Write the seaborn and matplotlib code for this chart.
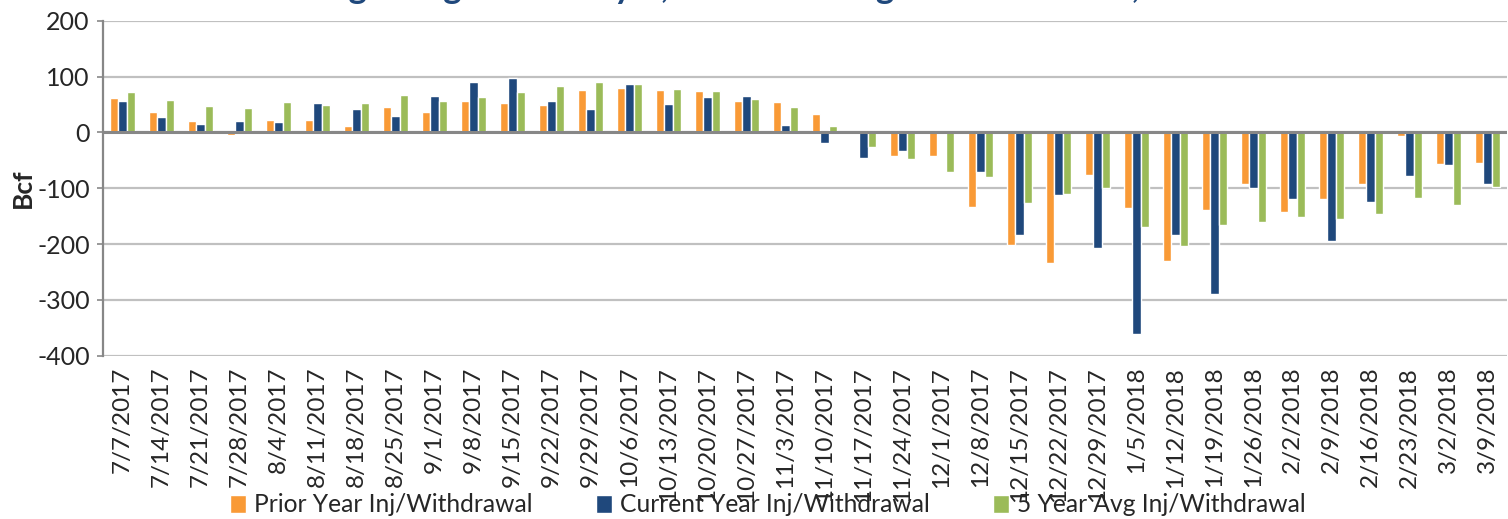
import numpy as np
import pandas as pd
import matplotlib
matplotlib.use("Agg")
import matplotlib.pyplot as plt
import seaborn as sns

# weekly storage change, Bcf
weeks = ["7/7/2017", "7/14/2017", "7/21/2017", "7/28/2017", "8/4/2017", "8/11/2017",
         "8/18/2017", "8/25/2017", "9/1/2017", "9/8/2017", "9/15/2017", "9/22/2017",
         "9/29/2017", "10/6/2017", "10/13/2017", "10/20/2017", "10/27/2017", "11/3/2017",
         "11/10/2017", "11/17/2017", "11/24/2017", "12/1/2017", "12/8/2017", "12/15/2017",
         "12/22/2017", "12/29/2017", "1/5/2018", "1/12/2018", "1/19/2018", "1/26/2018",
         "2/2/2018", "2/9/2018", "2/16/2018", "2/23/2018", "3/2/2018", "3/9/2018"]
prior = [61, 37, 20, -4, 23, 22, 11, 46, 37, 57, 53, 49, 76, 79, 77, 74, 56, 54, 34, 1,
         -43, -43, -133, -201, -234, -76, -136, -231, -138, -92, -143, -120, -92, -7, -57, -55]
current = [57, 28, 16, 20, 19, 53, 43, 29, 65, 90, 97, 57, 42, 87, 51, 64, 65, 14, -19, -46,
           -33, 1, -70, -183, -112, -207, -361, -184, -289, -99, -119, -195, -124, -78, -58, -93]
avg5 = [72, 58, 47, 44, 54, 49, 53, 67, 57, 63, 73, 84, 90, 87, 78, 75, 60, 45, 11, -26,
        -48, -70, -79, -126, -111, -99, -170, -204, -165, -161, -152, -155, -146, -118, -130, -97]
series = ["Prior Year Inj/Withdrawal", "Current Year Inj/Withdrawal", "5 Year Avg Inj/Withdrawal"]
colors = ["#F99A36", "#1F487C", "#9BBB59"]

df = pd.DataFrame({"Week": weeks, series[0]: prior, series[1]: current, series[2]: avg5})
df_long = df.melt(id_vars="Week", var_name="Series", value_name="Bcf")

sns.set_style("white")
plt.rcParams["font.family"] = ["Lato", "DejaVu Sans"]
plt.rcParams["axes.unicode_minus"] = False

fig = plt.figure(figsize=(15.08, 5.19), dpi=100)
ax = fig.add_axes([103 / 1508, 1 - 355.7 / 519, 1404 / 1508, (355.7 - 20.9) / 519])

sns.barplot(data=df_long, x="Week", y="Bcf", hue="Series", order=weeks, hue_order=series,
            palette=colors, width=0.64, saturation=1, ax=ax, legend=True)

ax.set_ylim(-400, 200)
ax.set_yticks(np.arange(-400, 201, 100))
ax.yaxis.grid(True, color="#C0C0C0", linewidth=1.6)
ax.set_axisbelow(True)
ax.axhline(0, color="#878787", linewidth=2.2, zorder=3)

for side in ["top", "right", "bottom"]:
    ax.spines[side].set_visible(False)
ax.spines["left"].set_color("#878787")
ax.spines["left"].set_linewidth(1.6)

ax.tick_params(axis="y", direction="out", length=4.5, width=1.2, color="#878787",
               labelsize=18, pad=5, left=True)
ax.tick_params(axis="x", length=0, labelsize=17.5, pad=8)
plt.setp(ax.get_xticklabels(), rotation=90)

ax.set_xlabel("")
ax.set_ylabel("Bcf", fontsize=19, fontweight="bold", labelpad=2)

ax.legend(loc="center", bbox_to_anchor=(768 / 1508, 14 / 519), bbox_transform=fig.transFigure,
          ncol=3, frameon=False, fontsize=17.7, handlelength=0.65, handleheight=0.7,
          handletextpad=0.3, columnspacing=2.6)

# title sits mostly above the canvas, only its descenders show
fig.text(768 / 1508, 1 + 2 / 519, "Beginning Week July 7, 2017 - Ending Week March 9, 2018",
         ha="center", va="baseline", fontsize=25, fontweight="bold", color="#1F487C")

fig.savefig("out.png", dpi=100)
